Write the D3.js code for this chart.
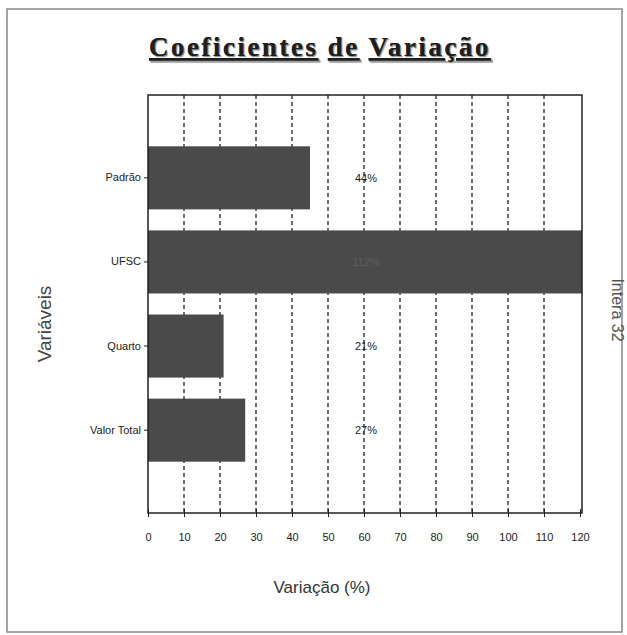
<!DOCTYPE html>
<html>
<head>
<meta charset="utf-8">
<script src="https://cdn.jsdelivr.net/npm/d3@7/dist/d3.min.js"></script>
<style>
  body { margin: 0; background: #fff; }
  svg { display: block; }
</style>
</head>
<body>
<svg id="chart" width="627" height="635"></svg>
<script>
// data
var categories = ['Padrão', 'UFSC', 'Quarto', 'Valor Total']
var values = [45, 121, 21, 27]
var valueLabels = ['44%', '112%', '21%', '27%']
var xTicks = [0, 10, 20, 30, 40, 50, 60, 70, 80, 90, 100, 110, 120]

var svg = d3.select('#chart')
var plot = { left: 148, top: 95, right: 582, bottom: 513 }

// outer frame
svg.append('rect')
  .attr('x', 7).attr('y', 9)
  .attr('width', 615).attr('height', 623)
  .attr('fill', 'none')
  .attr('stroke', '#888')
  .attr('stroke-width', 1.5)

var x = d3.scaleLinear().domain([0, 120]).range([plot.left, 580])
var y = d3.scaleBand().domain(categories)
  .range([plot.top, plot.bottom])
  .paddingInner(0.25)
  .paddingOuter(0.61)

// dashed gridlines (behind the bars)
svg.append('g')
  .selectAll('line')
  .data(xTicks.filter(function (d) { return d > 0 && d < 120 }))
  .join('line')
  .attr('x1', function (d) { return x(d) })
  .attr('x2', function (d) { return x(d) })
  .attr('y1', plot.top)
  .attr('y2', plot.bottom)
  .attr('stroke', '#222')
  .attr('stroke-width', 1.3)
  .attr('stroke-dasharray', '4,3')

// bars (clipped at the plot edge)
svg.append('g')
  .selectAll('rect')
  .data(values)
  .join('rect')
  .attr('x', x(0))
  .attr('y', function (d, i) { return y(categories[i]) })
  .attr('width', function (d) { return Math.min(x(d), plot.right) - x(0) })
  .attr('height', y.bandwidth())
  .attr('fill', '#4a4a4a')

// value labels, all at the same x
svg.append('g')
  .selectAll('text')
  .data(valueLabels)
  .join('text')
  .attr('x', x(60) + 2)
  .attr('y', function (d, i) { return y(categories[i]) + y.bandwidth() / 2 + 4 })
  .attr('text-anchor', 'middle')
  .attr('font-family', 'Arial, Liberation Sans, sans-serif')
  .attr('font-size', 11)
  .attr('fill', function (d, i) { return values[i] > 60 ? '#5e5e5e' : '#222' })
  .text(function (d) { return d })

// plot box
svg.append('rect')
  .attr('x', plot.left).attr('y', plot.top)
  .attr('width', plot.right - plot.left)
  .attr('height', plot.bottom - plot.top)
  .attr('fill', 'none')
  .attr('stroke', '#222')
  .attr('stroke-width', 1.5)

// x axis
var xAxis = svg.append('g')
  .attr('transform', 'translate(0,' + plot.bottom + ')')
  .call(d3.axisBottom(x).tickValues(xTicks).tickSize(4).tickPadding(16))
xAxis.select('.domain').remove()
xAxis.selectAll('.tick line').attr('y1', -4).attr('stroke', '#222')
xAxis.selectAll('text')
  .attr('font-family', 'Arial, Liberation Sans, sans-serif')
  .attr('font-size', 11)
  .attr('fill', '#222')

// y axis
var yAxis = svg.append('g')
  .attr('transform', 'translate(' + plot.left + ',0)')
  .call(d3.axisLeft(y).tickSize(4).tickPadding(3))
yAxis.select('.domain').remove()
yAxis.selectAll('.tick line').attr('stroke', '#222')
yAxis.selectAll('text')
  .attr('font-family', 'Arial, Liberation Sans, sans-serif')
  .attr('font-size', 11)
  .attr('fill', '#222')

// title, each word underlined on its own
var title = svg.append('text')
  .attr('x', 320).attr('y', 56)
  .attr('text-anchor', 'middle')
  .attr('font-family', 'Liberation Serif, Times New Roman, serif')
  .attr('font-weight', 'bold')
  .attr('font-size', 27)
  .attr('letter-spacing', 2.5)
  .attr('fill', '#1e1e1e')
  .style('text-shadow', '1px 1px 1px #999')
var words = ['Coeficientes', 'de', 'Variação']
words.forEach(function (w, i) {
  if (i > 0) title.append('tspan').text(' ')
  title.append('tspan').attr('text-decoration', 'underline').text(w)
})

// axis titles
svg.append('text')
  .attr('transform', 'translate(322,593)')
  .attr('text-anchor', 'middle')
  .attr('font-family', 'Arial, Liberation Sans, sans-serif')
  .attr('font-size', 17)
  .attr('fill', '#333')
  .text('Variação (%)')

svg.append('text')
  .attr('transform', 'translate(51,324) rotate(-90)')
  .attr('text-anchor', 'middle')
  .attr('font-family', 'Arial, Liberation Sans, sans-serif')
  .attr('font-size', 19)
  .attr('fill', '#444')
  .text('Variáveis')

svg.append('text')
  .attr('transform', 'translate(612,310) rotate(90)')
  .attr('text-anchor', 'middle')
  .attr('font-family', 'Arial, Liberation Sans, sans-serif')
  .attr('font-size', 16)
  .attr('fill', '#555')
  .text('Intera 32')
</script>
</body>
</html>
